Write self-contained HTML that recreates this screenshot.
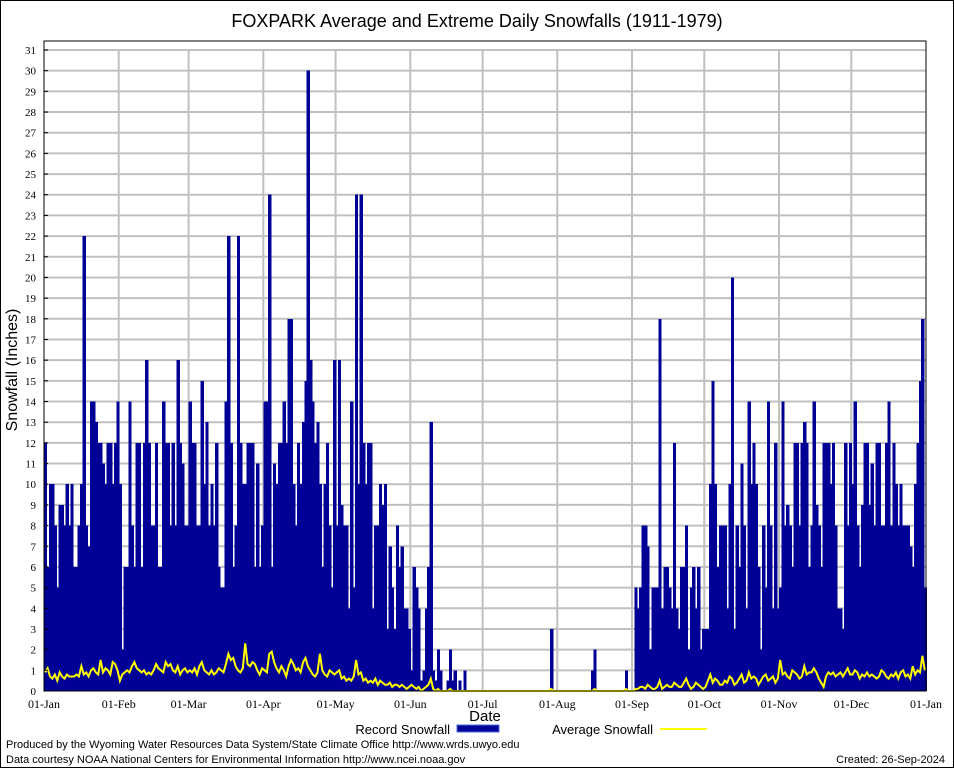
<!DOCTYPE html>
<html><head><meta charset="utf-8"><style>
body{margin:0;background:#fff;}
svg{display:block;font-family:"Liberation Sans",sans-serif;}
</style></head><body>
<svg id="chart" width="954" height="768">
<rect x="0.5" y="0.5" width="953" height="767" fill="#fff" stroke="#000"/>
<text x="477" y="27" text-anchor="middle" font-size="18">FOXPARK Average and Extreme Daily Snowfalls (1911-1979)</text>
<g id="grid"></g><g id="bars" shape-rendering="crispEdges"></g><g id="avg"></g><g id="axes"></g>
<text transform="translate(17,370) rotate(-90)" text-anchor="middle" font-size="16">Snowfall (Inches)</text>
<text x="485" y="721" text-anchor="middle" font-size="15">Date</text>
<g>
<text x="450" y="734" text-anchor="end" font-size="13">Record Snowfall</text>
<rect x="457" y="725" width="42" height="7" fill="#000096" stroke="#4a6adf"/>
<text x="653" y="734" text-anchor="end" font-size="13">Average Snowfall</text>
<line x1="660" y1="729" x2="707" y2="729" stroke="#ffff00" stroke-width="2"/>
</g>
<text x="6" y="748" font-size="11">Produced by the Wyoming Water Resources Data System/State Climate Office http://www.wrds.uwyo.edu</text>
<text x="6" y="763" font-size="11">Data courtesy NOAA National Centers for Environmental Information http://www.ncei.noaa.gov</text>
<text x="945" y="763" text-anchor="end" font-size="11">Created: 26-Sep-2024</text>
</svg>
<script>
const monthLabels=["01-Jan","01-Feb","01-Mar","01-Apr","01-May","01-Jun","01-Jul","01-Aug","01-Sep","01-Oct","01-Nov","01-Dec","01-Jan"];
const monthStarts=[0,31,60,91,121,152,182,213,244,274,305,335,366];
const yTicks=[0,1,2,3,4,5,6,7,8,9,10,11,12,13,14,15,16,17,18,19,20,21,22,23,24,25,26,27,28,29,30,31];
const recJan=[12,6,10,10,8,5,9,9,8,10,8,10,6,6,8,10,22,8,7,14,14,13,12,12,11,10,12,12,10,12,14];
const recFeb=[10,2,6,6,14,8,6,12,12,6,12,16,12,8,8,12,6,6,14,12,12,8,12,8,16,12,11,8,8];
const recMar=[14,12,12,8,8,15,10,13,8,10,8,12,6,5,5,14,22,12,6,8,22,12,10,10,12,12,12,6,11,6,8];
const recApr=[14,14,24,6,11,10,12,12,14,12,18,18,10,8,12,10,13,15,30,16,14,12,13,10,6,10,12,8,5,16];
const recMay=[8,16,9,8,8,4,14,5,24,10,24,12,10,12,12,4,8,8,10,9,10,3,7,5,3,8,6,7,4,4,3];
const recJun=[1,6,5,4,0.5,1,4,6,13,1,0.5,2,1,0,0,0.5,2,0.5,1,0,0.5,0,1,0,0,0,0,0,0,0];
const recJul=[0,0,0,0,0,0,0,0,0,0,0,0,0,0,0,0,0,0,0,0,0,0,0,0,0,0,0,0,3,0,0];
const recAug=[0,0,0,0,0,0,0,0,0,0,0,0,0,0,1,2,0,0,0,0,0,0,0,0,0,0,0,0,1,0,0];
const recSep=[0,5,4,5,8,8,7,2,5,5,5,18,4,6,6,5,4,12,4,3,6,6,8,2,5,6,4,6,2,3];
const recOct=[3,3,10,15,10,6,8,8,8,4,10,20,3,8,6,11,8,4,14,10,12,10,6,2,8,5,14,8,4,12,4];
const recNov=[5,14,8,9,8,6,12,12,8,12,13,12,6,8,14,9,8,6,12,12,12,10,12,8,4,4,3,12,8,12];
const recDec=[10,14,8,6,9,12,12,9,11,8,12,12,8,8,12,14,8,12,10,8,10,8,8,8,7,6,10,12,15,18,5];
const avgJan=[0.9,1.1,0.7,0.6,0.8,0.5,0.9,0.7,0.6,0.8,0.7,0.7,0.7,0.8,0.7,1.2,0.8,0.9,0.7,1.0,1.1,0.9,0.8,1.5,0.9,1.1,1.0,0.8,1.4,1.3,1.0];
const avgFeb=[0.5,0.8,0.9,1.0,0.9,1.2,1.4,1.1,1.0,0.9,1.0,0.8,0.9,0.8,1.0,1.3,1.1,1.0,0.9,1.4,1.2,1.3,1.0,0.9,1.2,0.8,1.0,1.1,0.9];
const avgMar=[1.0,0.9,1.1,0.8,1.2,1.4,1.0,0.9,0.8,1.0,0.8,0.9,1.1,1.0,0.9,1.3,1.8,1.5,1.6,1.2,1.0,0.9,1.1,2.3,1.3,1.2,1.4,1.3,1.0,0.8,1.1];
const avgApr=[1.0,0.9,1.8,1.9,1.4,1.1,0.9,1.2,1.0,0.7,1.2,1.5,1.3,1.0,1.1,0.9,1.4,1.6,1.2,1.0,0.8,0.7,0.9,1.8,1.0,0.8,0.7,1.0,0.9,0.8];
const avgMay=[0.9,1.0,0.6,0.7,0.5,0.6,0.5,0.7,1.5,0.8,0.9,0.5,0.6,0.4,0.5,0.4,0.6,0.3,0.5,0.4,0.3,0.3,0.4,0.2,0.3,0.3,0.2,0.3,0.2,0.1,0.2];
const avgJun=[0.3,0.2,0.1,0.2,0.0,0.1,0.2,0.3,0.6,0.1,0,0.1,0,0,0,0,0.1,0,0,0,0,0,0,0,0,0,0,0,0,0];
const avgJul=[0,0,0,0,0,0,0,0,0,0,0,0,0,0,0,0,0,0,0,0,0,0,0,0,0,0,0,0,0.1,0,0];
const avgAug=[0,0,0,0,0,0,0,0,0,0,0,0,0,0,0,0.1,0,0,0,0,0,0,0,0,0,0,0,0,0.1,0,0];
const avgSep=[0,0.1,0.1,0.2,0.2,0.1,0.3,0.2,0.1,0.1,0.2,0.5,0.1,0.2,0.3,0.2,0.2,0.4,0.3,0.2,0.2,0.4,0.6,0.3,0.1,0.2,0.4,0.3,0.2,0.1];
const avgOct=[0.2,0.5,0.8,0.4,0.6,0.5,0.3,0.3,0.5,0.4,0.7,0.6,0.3,0.4,0.6,0.8,0.4,0.5,0.9,0.6,0.7,0.6,0.3,0.5,0.7,0.8,0.5,0.6,0.7,0.4,0.6];
const avgNov=[1.5,0.8,0.9,0.7,0.6,1.0,0.9,0.8,0.6,0.7,1.2,0.8,0.9,0.9,1.1,0.9,0.6,0.4,0.2,0.7,0.9,0.8,0.9,0.7,0.8,0.9,0.7,0.9,1.1,0.8];
const avgDec=[0.8,1.0,0.9,0.6,0.8,0.7,0.9,0.7,0.8,0.7,0.6,0.7,1.0,0.9,0.7,0.6,0.8,0.7,0.9,0.6,0.9,1.0,0.7,0.8,0.6,1.2,0.8,1.0,0.9,1.7,1.0];
const record=[].concat(recJan,recFeb,recMar,recApr,recMay,recJun,recJul,recAug,recSep,recOct,recNov,recDec);
const average=[].concat(avgJan,avgFeb,avgMar,avgApr,avgMay,avgJun,avgJul,avgAug,avgSep,avgOct,avgNov,avgDec);
const NS="http://www.w3.org/2000/svg";
const L=44,R=926,T=50,B=691,N=366,YMAX=31;
const xs=d=>L+(R-L)*d/N;
const ys=v=>B-(B-T)*v/YMAX;
function mk(tag,attrs,parent){const e=document.createElementNS(NS,tag);for(const k in attrs)e.setAttribute(k,attrs[k]);parent.appendChild(e);return e;}
const grid=document.getElementById('grid'),bars=document.getElementById('bars'),avg=document.getElementById('avg'),axes=document.getElementById('axes');
yTicks.forEach(t=>{
  if(t>0){const g=mk('line',{x1:L,x2:R,y1:ys(t),y2:ys(t),stroke:'#c0c0c0','stroke-width':2},grid);
  
  }
  const tk=mk('line',{x1:L,x2:L+4,y1:ys(t),y2:ys(t),stroke:'#000'},axes);
  
  
  const lb=mk('text',{x:L-8,y:ys(t)+4,'text-anchor':'end','font-size':11,'font-family':'Liberation Serif, serif'},axes);
  lb.textContent=t;
  
  
});
monthStarts.forEach((d,i)=>{
  if(i>0&&i<12){const g=mk('line',{x1:xs(d),x2:xs(d),y1:T,y2:B,stroke:'#c0c0c0','stroke-width':2},grid);
  
  }
  const lb=mk('text',{x:xs(d),y:B+17,'text-anchor':'middle','font-size':12,'font-family':'Liberation Serif, serif'},axes);
  lb.textContent=monthLabels[i];
  
  
});
const w=(R-L)/N;
record.forEach((v,d)=>{
  if(v<=0)return;
  const r=mk('rect',{x:xs(d),y:ys(v),width:w+0.8,height:B-ys(v),fill:'#000096'},bars);
  
  
});
const pts=average.map((v,d)=>(xs(d)+w/2).toFixed(1)+','+ys(v).toFixed(1)).join(' ');
const pl=mk('polyline',{points:pts,fill:'none',stroke:'#ffff00','stroke-width':2},avg);


const fr=mk('rect',{x:L,y:T-9,width:R-L,height:B-T+9,fill:'none',stroke:'#000'},axes);


</script>
</body></html>
